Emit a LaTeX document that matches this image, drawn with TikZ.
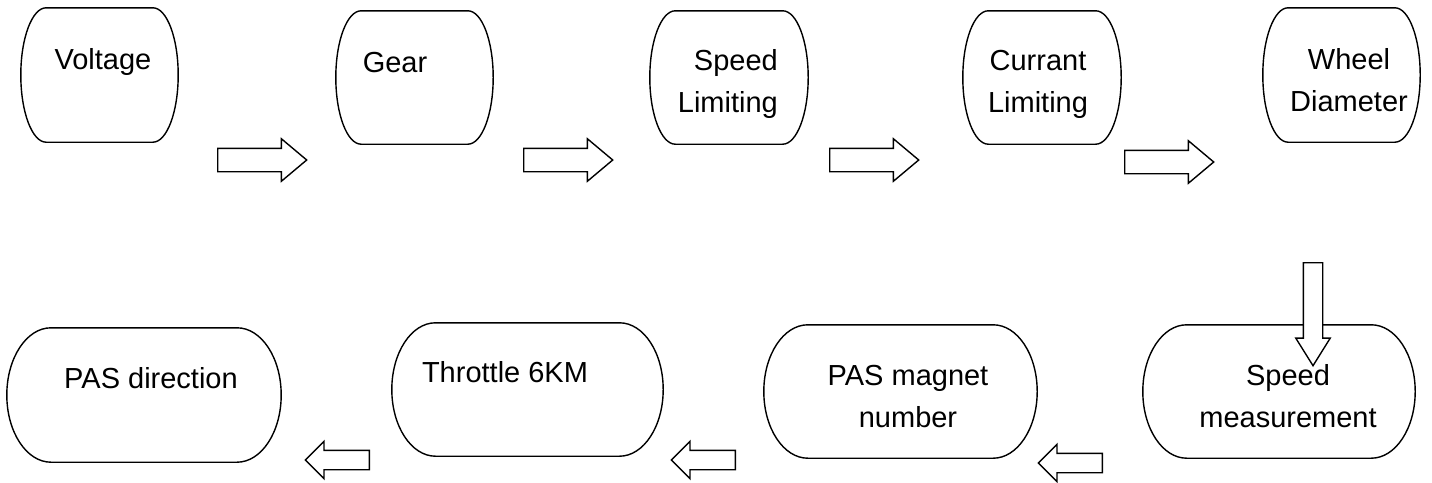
\documentclass[tikz,border=0pt]{standalone}
\usepackage{fontspec}
\setmainfont{Liberation Sans}
\usetikzlibrary{calc,shapes.arrows}

\tikzset{
  term/.style={draw=none,rectangle,inner sep=0pt},
  txt/.style={font=\fontsize{29}{41.5}\selectfont,inner sep=0pt,align=center,anchor=base},
  blockarrow/.style={single arrow,draw,fill=white,line width=1.4pt,text height=0pt,text depth=0pt,
    single arrow head indent=0pt,anchor=tail},
}

\begin{document}
\begin{tikzpicture}[x=1pt,y=-1pt]
    \useasboundingbox (0,0) rectangle (1432,482);
    % boxes
    \node[term,minimum width=157pt,minimum height=134pt] (volt) at (99.5,75) {};
    \node[term,minimum width=157pt,minimum height=133pt] (gear) at (414.5,77.5) {};
    \node[term,minimum width=158pt,minimum height=133pt] (spd) at (729,77.5) {};
    \node[term,minimum width=158pt,minimum height=133pt] (cur) at (1042,77.5) {};
    \node[term,minimum width=157pt,minimum height=134pt] (whl) at (1341.5,75) {};
    \node[term,minimum width=274pt,minimum height=134pt] (dir) at (144,395) {};
    \node[term,minimum width=271pt,minimum height=133pt] (thr) at (527.5,389.5) {};
    \node[term,minimum width=273pt,minimum height=133pt] (mag) at (900.5,391.5) {};
    \node[term,minimum width=272pt,minimum height=133pt] (meas) at (1279,391.5) {};
    \foreach \b in {volt,gear,spd,cur,whl,dir,thr,mag,meas}
        \draw[line width=1.4pt] let \p1=(\b.south west), \p2=(\b.north east),
            \n1={0.161*(\x2-\x1)}, \n2={(\y2-\y1)/2} in
            (\x1+\n1,\y2) -- (\x2-\n1,\y2)
            arc[start angle=90,end angle=-90,x radius=\n1,y radius=\n2]
            -- (\x1+\n1,\y1)
            arc[start angle=270,end angle=90,x radius=\n1,y radius=\n2] -- cycle;
    % texts (two-line ones sit on the base of their last line)
    \node[txt] (voltT) at (103,69) {Voltage};
    \node[txt] (gearT) at (395,72) {Gear};
    \node[txt,align=right,anchor=base east] (spdT) at (778,112) {Speed\\Limiting};
    \node[txt] (curT) at (1038,112) {Currant\\Limiting};
    \node[txt] (whlT) at (1349,111) {Wheel\\Diameter};
    \node[txt] (dirT) at (151,388) {PAS direction};
    \node[txt] (thrT) at (505,382) {Throttle 6KM};
    \node[txt] (magT) at (908,427) {PAS magnet\\number};
    \node[txt] (measT) at (1288,427) {Speed\\measurement};
    % arrows
    \foreach \x/\y [count=\i] in {217/160,523/160,829/160,1124/162}
        \node[blockarrow,inner xsep=0pt,inner ysep=11pt,single arrow head extend=9.5pt,
            single arrow tip angle=80,minimum height=89pt] (ar\i) at (\x,\y) {};
    \node[blockarrow,inner xsep=9pt,inner ysep=0pt,single arrow head extend=7.5pt,
        single arrow tip angle=64,minimum height=103pt,shape border rotate=270] (ar5) at (1313,262) {};
    \foreach \x/\y [count=\i from 6] in {1103/463,736/460,370/460}
        \node[blockarrow,inner xsep=0pt,inner ysep=9pt,single arrow head extend=9pt,
            single arrow tip angle=90,minimum height=64pt,shape border rotate=180] (ar\i) at (\x,\y) {};
\end{tikzpicture}
\end{document}
